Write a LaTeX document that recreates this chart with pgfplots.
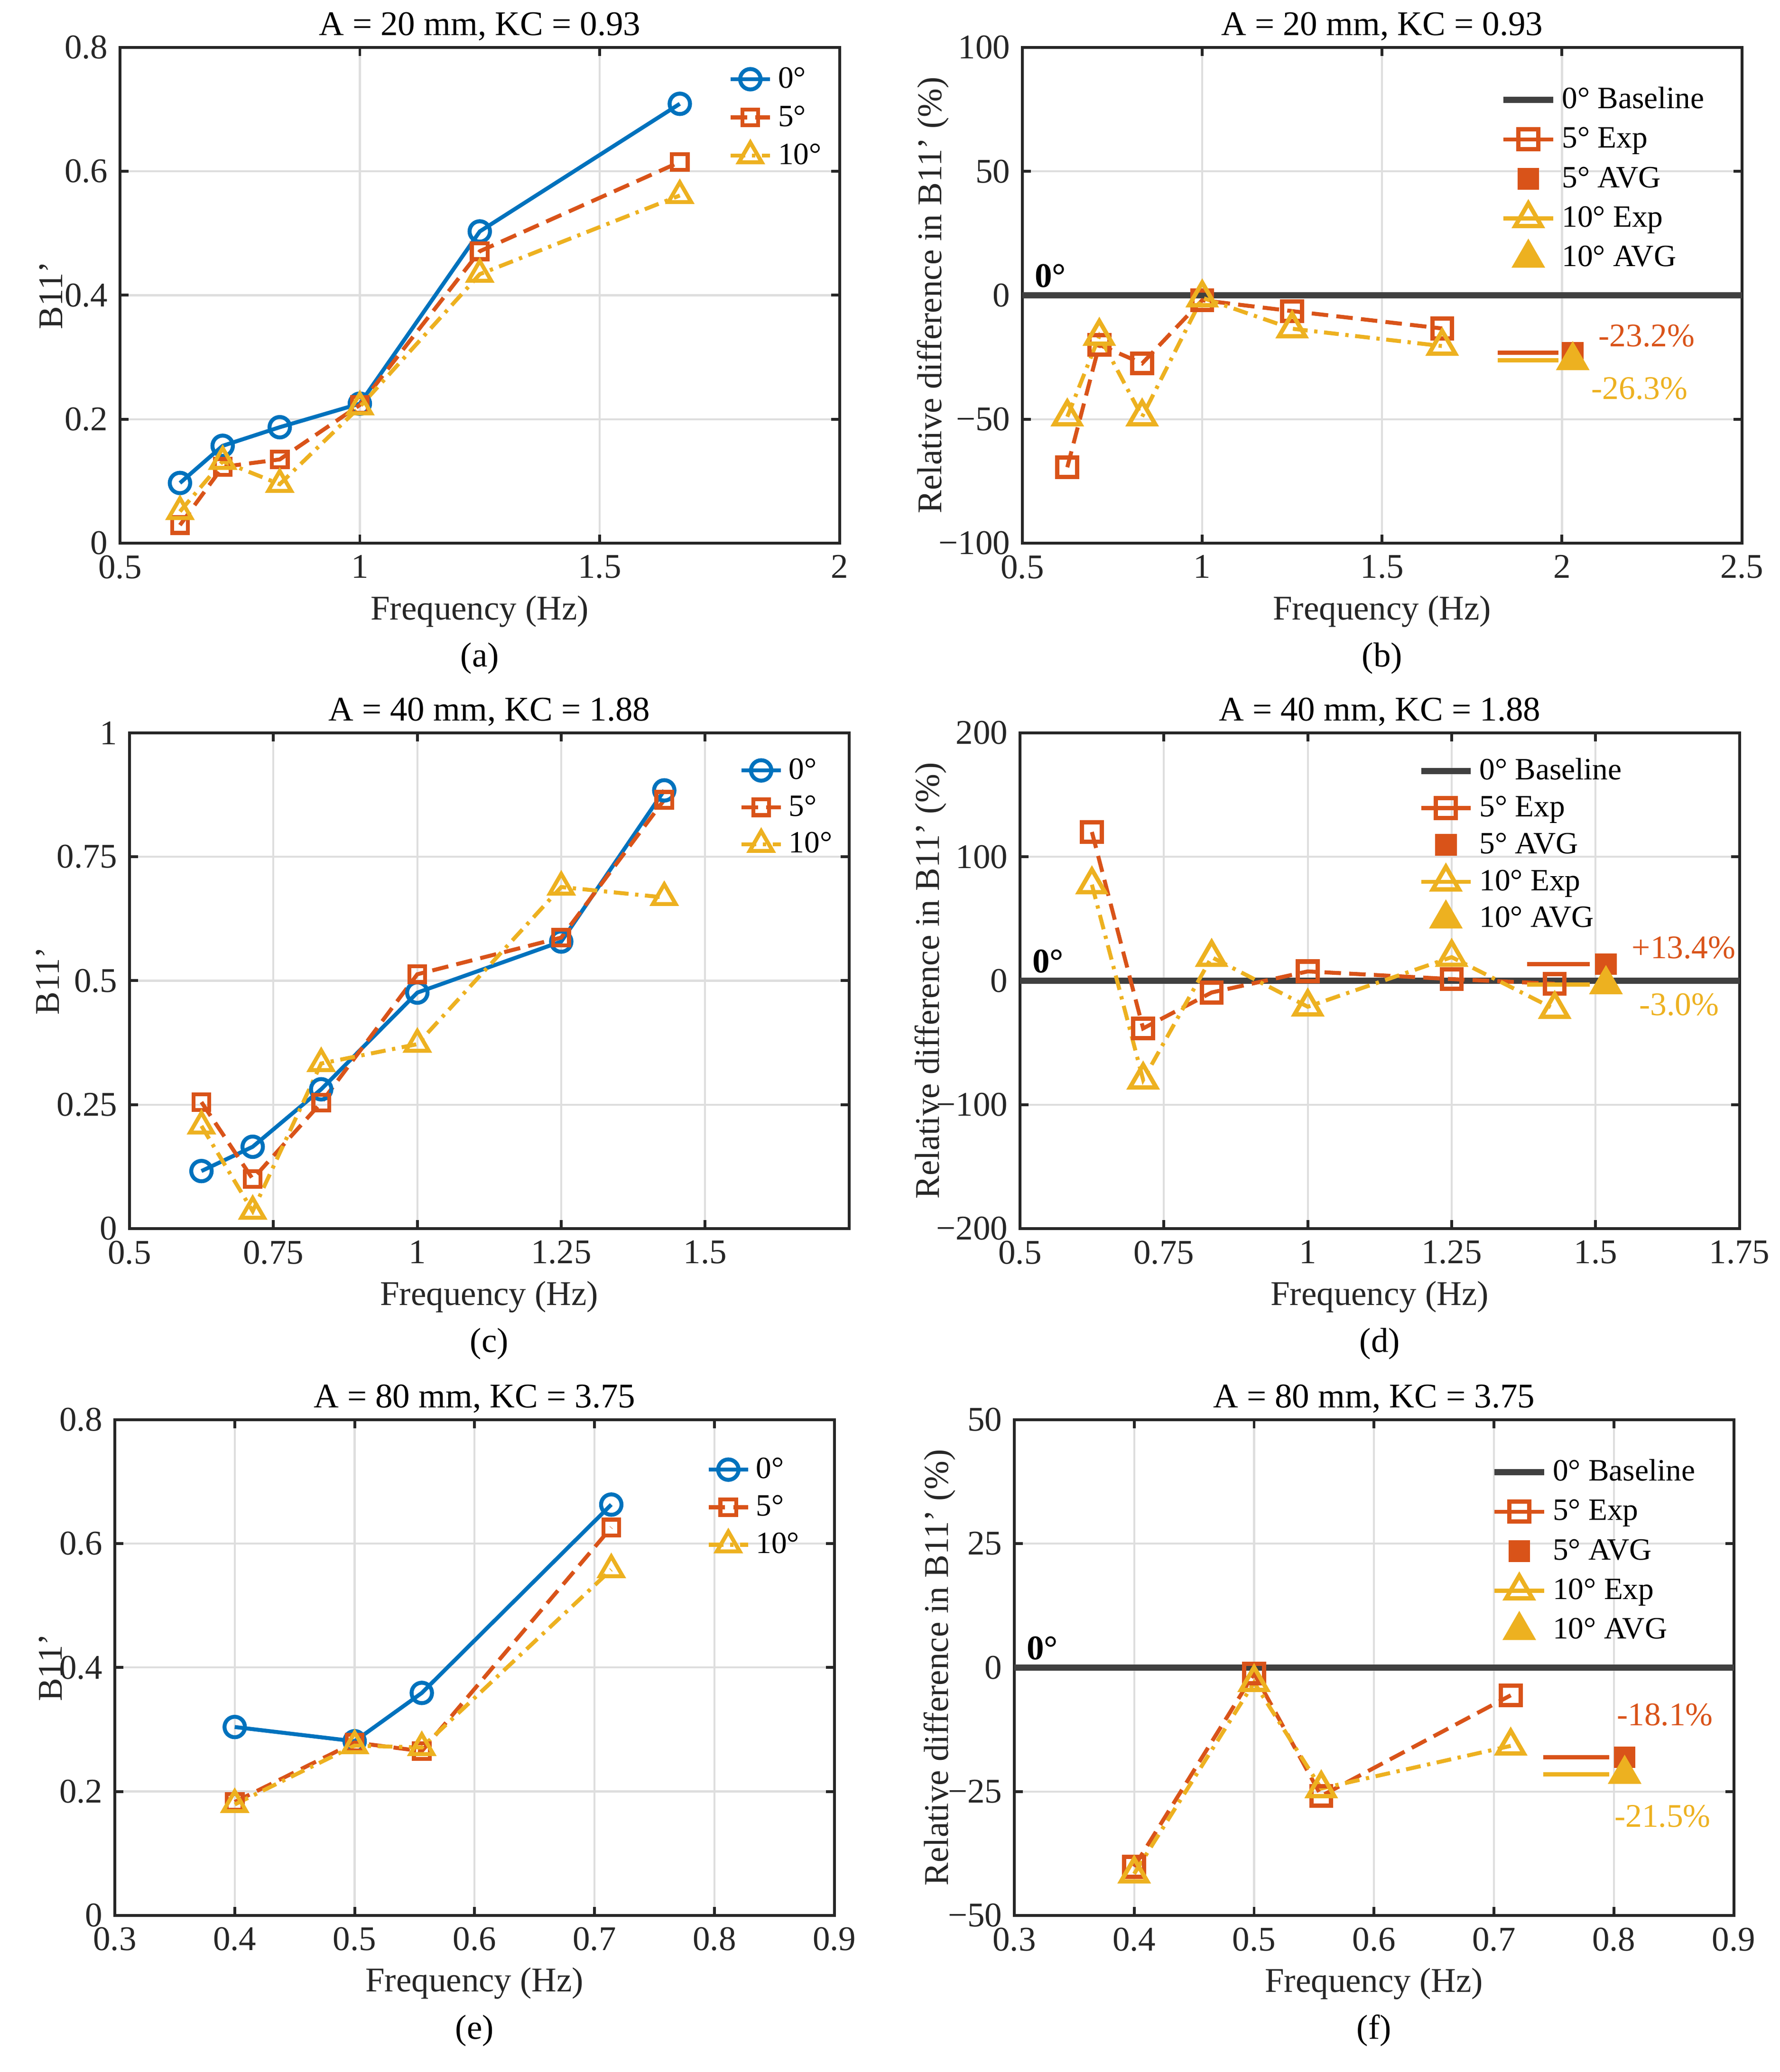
\documentclass[border=0pt]{standalone}
\usepackage{fontspec}
\setmainfont{Liberation Serif}
\usepackage{pgfplots}
\pgfplotsset{compat=1.18}
\definecolor{mblue}{HTML}{0072BD}
\definecolor{morange}{HTML}{D95319}
\definecolor{myellow}{HTML}{EDB120}
\definecolor{axcol}{HTML}{262626}
\definecolor{gridcol}{HTML}{DEDEDE}
\definecolor{basecol}{HTML}{404040}
\newcommand\myfont{\fontsize{10.5}{12.6}\selectfont}
\newcommand\legfont{\fontsize{9.4}{11}\selectfont}
\newcommand\pctfont{\fontsize{10}{12}\selectfont}
\pgfplotsset{
 base/.style={
  scale only axis, width=218.3pt, height=150.4pt, anchor=north west,
  axis line style={draw=axcol, line width=0.85pt},
  every tick/.style={draw=axcol, line width=0.85pt},
  major tick length=2.6pt, tick align=inside,
  xmajorgrids, ymajorgrids,
  grid style={draw=gridcol, line width=0.6pt},
  tick label style={font=\myfont, text=axcol},
  title style={font=\myfont, at={(axis description cs:0.5,1)}, anchor=base, yshift=-2.4pt},
  xlabel style={font=\myfont, text=axcol, at={([yshift=-23.2pt]axis description cs:0.5,0)}, anchor=base},
  clip=false,
  legend cell align=left,
  legend style={draw=none, fill=none, font=\legfont, at={(1,1)}, anchor=north east, inner sep=0pt, row sep=0pt},
 },
 legA/.style={legend image code/.code={\draw[mark repeat=2,mark phase=2,##1] plot coordinates {(0pt,0pt)(6pt,0pt)(12pt,0pt)};}},
 legB/.style={legend image code/.code={\draw[mark repeat=2,mark phase=2,##1] plot coordinates {(0pt,0pt)(7.5pt,0pt)(15pt,0pt)};}},
 yl/.style={ylabel style={font=\myfont, text=axcol, at={([xshift=#1]axis description cs:0,0.5)}, anchor=base}},
 p0/.style={color=mblue, line width=1.2pt, solid, mark=o, mark size=3.1pt, mark options={solid, line width=1.2pt}},
 p5/.style={color=morange, line width=1.2pt, dash pattern=on 5pt off 2.5pt, mark=square, mark size=2.4pt, mark options={solid, line width=1.2pt}},
 p10/.style={color=myellow, line width=1.2pt, dash pattern=on 4.5pt off 2pt on 1pt off 2pt, mark=triangle, mark size=4pt, mark options={solid, line width=1.2pt}},
 r5/.style={color=morange, line width=1.2pt, dash pattern=on 5pt off 2.5pt, mark=square, mark size=3pt, mark options={solid, line width=1.3pt}},
 r10/.style={color=myellow, line width=1.2pt, dash pattern=on 4.5pt off 2pt on 1pt off 2pt, mark=triangle, mark size=4.6pt, mark options={solid, line width=1.3pt}},
 a5/.style={color=morange, only marks, mark=square*, mark size=3.1pt, mark options={solid, fill=morange, draw=morange}},
 a10/.style={color=myellow, only marks, mark=triangle*, mark size=5.5pt, mark options={solid, fill=myellow, draw=myellow}},
 bl/.style={color=basecol, line width=1.8pt, solid, no marks},
 h5/.style={color=morange, line width=1.3pt, solid, no marks},
 h10/.style={color=myellow, line width=1.3pt, solid, no marks},
}
\begin{document}
\myfont
\begin{tikzpicture}
\useasboundingbox (0,0) rectangle (540pt,-628.7pt);
% ---------- (a)
\begin{axis}[base, legA, yl=-17.5pt, at={(36.41pt,-14.39pt)},
  xmin=0.5, xmax=2, ymin=0, ymax=0.8,
  xtick={0.5,1,1.5,2}, xticklabels={0.5,1,1.5,2},
  ytick={0,0.2,0.4,0.6,0.8}, yticklabels={0,0.2,0.4,0.6,0.8},
  title={A = 20 mm, KC = 0.93}, xlabel={Frequency (Hz)}, ylabel={B11'},
  legend style={xshift=-3.5pt, yshift=-3.65pt, nodes={inner xsep=1.8pt, inner ysep=1pt, text height=7.5pt, text depth=2.1pt}}]
\addplot[p0] coordinates {(0.625,0.097)(0.714,0.157)(0.833,0.187)(1.0,0.225)(1.25,0.503)(1.667,0.709)};
\addlegendentry{0°}
\addplot[p5] coordinates {(0.625,0.029)(0.714,0.123)(0.833,0.135)(1.0,0.223)(1.25,0.471)(1.667,0.615)};
\addlegendentry{5°}
\addplot[p10] coordinates {(0.625,0.051)(0.714,0.132)(0.833,0.095)(1.0,0.220)(1.25,0.434)(1.667,0.561)};
\addlegendentry{10°}
\node[font=\myfont] at ([yshift=-35pt]rel axis cs:0.5,0) {(a)};
\end{axis}
% ---------- (b)
\begin{axis}[base, legB, yl=-24.6pt, at={(310.16pt,-14.39pt)},
  xmin=0.5, xmax=2.5, ymin=-100, ymax=100,
  xtick={0.5,1,1.5,2,2.5}, xticklabels={0.5,1,1.5,2,2.5},
  ytick={-100,-50,0,50,100}, yticklabels={−100,−50,0,50,100},
  title={A = 20 mm, KC = 0.93}, xlabel={Frequency (Hz)}, ylabel={Relative difference in B11' (\%)},
  legend style={xshift=-9.4pt, yshift=-9.7pt, nodes={inner xsep=1.8pt, inner ysep=1pt, text height=7.6pt, text depth=2.4pt}}]
\addplot[bl, forget plot] coordinates {(0.5,0)(2.5,0)};
\addplot[r5, forget plot] coordinates {(0.625,-69.4)(0.714,-20)(0.833,-27.5)(1.0,-2)(1.25,-6.4)(1.667,-13.4)};
\addplot[h5, forget plot] coordinates {(1.822,-23.2)(1.99,-23.2)};
\addplot[a5, forget plot] coordinates {(2.03,-23.2)};
\addplot[r10, forget plot] coordinates {(0.625,-49)(0.714,-16.5)(0.833,-49)(1.0,-1)(1.25,-13.5)(1.667,-20.5)};
\addplot[h10, forget plot] coordinates {(1.822,-26.3)(1.99,-26.3)};
\addplot[a10, forget plot] coordinates {(2.03,-26.3)};
\addlegendimage{bl}\addlegendentry{0° Baseline}
\addlegendimage{r5, solid}\addlegendentry{5° Exp}
\addlegendimage{a5}\addlegendentry{5° AVG}
\addlegendimage{r10, solid}\addlegendentry{10° Exp}
\addlegendimage{a10}\addlegendentry{10° AVG}
\node[anchor=base west, font=\myfont\bfseries, inner sep=0pt] at ([xshift=3.6pt, yshift=2.5pt]axis cs:0.5,0) {0°};
\node[anchor=west, font=\pctfont, text=morange, inner sep=0pt] at (axis cs:2.10,-16.4) {-23.2\%};
\node[anchor=west, font=\pctfont, text=myellow, inner sep=0pt] at (axis cs:2.08,-37.6) {-26.3\%};
\node[font=\myfont] at ([yshift=-35pt]rel axis cs:0.5,0) {(b)};
\end{axis}
% ---------- (c)
\begin{axis}[base, legA, yl=-21.3pt, at={(39.29pt,-222.37pt)},
  xmin=0.5, xmax=1.75, ymin=0, ymax=1,
  xtick={0.5,0.75,1,1.25,1.5}, xticklabels={0.5,0.75,1,1.25,1.5},
  ytick={0,0.25,0.5,0.75,1}, yticklabels={0,0.25,0.5,0.75,1},
  title={A = 40 mm, KC = 1.88}, xlabel={Frequency (Hz)}, ylabel={B11'},
  legend style={xshift=-3.1pt, yshift=-5.6pt, nodes={inner xsep=1.8pt, inner ysep=1pt, text height=7.2pt, text depth=2pt}}]
\addplot[p0] coordinates {(0.625,0.116)(0.714,0.165)(0.833,0.281)(1.0,0.476)(1.25,0.579)(1.429,0.884)};
\addlegendentry{0°}
\addplot[p5] coordinates {(0.625,0.255)(0.714,0.100)(0.833,0.254)(1.0,0.513)(1.25,0.587)(1.429,0.865)};
\addlegendentry{5°}
\addplot[p10] coordinates {(0.625,0.207)(0.714,0.035)(0.833,0.333)(1.0,0.372)(1.25,0.689)(1.429,0.668)};
\addlegendentry{10°}
\node[font=\myfont] at ([yshift=-35pt]rel axis cs:0.5,0) {(c)};
\end{axis}
% ---------- (d)
\begin{axis}[base, legB, yl=-24.6pt, at={(309.44pt,-222.37pt)},
  xmin=0.5, xmax=1.75, ymin=-200, ymax=200,
  xtick={0.5,0.75,1,1.25,1.5,1.75}, xticklabels={0.5,0.75,1,1.25,1.5,1.75},
  ytick={-200,-100,0,100,200}, yticklabels={−200,−100,0,100,200},
  title={A = 40 mm, KC = 1.88}, xlabel={Frequency (Hz)}, ylabel={Relative difference in B11' (\%)},
  legend style={xshift=-33.7pt, yshift=-5.8pt, nodes={inner xsep=1.8pt, inner ysep=1pt, text height=7.2pt, text depth=2pt}}]
\addplot[bl, forget plot] coordinates {(0.5,0)(1.75,0)};
\addplot[r5, forget plot] coordinates {(0.625,120)(0.714,-38.5)(0.833,-9.5)(1.0,7.5)(1.25,1.3)(1.429,-2.5)};
\addplot[h5, forget plot] coordinates {(1.381,13.4)(1.490,13.4)};
\addplot[a5, forget plot] coordinates {(1.518,13.4)};
\addplot[r10, forget plot] coordinates {(0.625,77.5)(0.714,-80)(0.833,19)(1.0,-21)(1.25,19)(1.429,-23)};
\addplot[h10, forget plot] coordinates {(1.381,-3.0)(1.490,-3.0)};
\addplot[a10, forget plot] coordinates {(1.518,-3.0)};
\addlegendimage{bl}\addlegendentry{0° Baseline}
\addlegendimage{r5, solid}\addlegendentry{5° Exp}
\addlegendimage{a5}\addlegendentry{5° AVG}
\addlegendimage{r10, solid}\addlegendentry{10° Exp}
\addlegendimage{a10}\addlegendentry{10° AVG}
\node[anchor=base west, font=\myfont\bfseries, inner sep=0pt] at ([xshift=3.6pt, yshift=2.5pt]axis cs:0.5,0) {0°};
\node[anchor=west, font=\pctfont, text=morange, inner sep=0pt] at (axis cs:1.562,26.5) {+13.4\%};
\node[anchor=west, font=\pctfont, text=myellow, inner sep=0pt] at (axis cs:1.575,-19.4) {-3.0\%};
\node[font=\myfont] at ([yshift=-35pt]rel axis cs:0.5,0) {(d)};
\end{axis}
% ---------- (e)
\begin{axis}[base, legA, yl=-16pt, at={(34.83pt,-430.77pt)},
  xmin=0.3, xmax=0.9, ymin=0, ymax=0.8,
  xtick={0.3,0.4,0.5,0.6,0.7,0.8,0.9}, xticklabels={0.3,0.4,0.5,0.6,0.7,0.8,0.9},
  ytick={0,0.2,0.4,0.6,0.8}, yticklabels={0,0.2,0.4,0.6,0.8},
  title={A = 80 mm, KC = 3.75}, xlabel={Frequency (Hz)}, ylabel={B11'},
  legend style={xshift=-8.6pt, yshift=-9.25pt, nodes={inner xsep=1.8pt, inner ysep=1pt, text height=7.3pt, text depth=2.1pt}}]
\addplot[p0] coordinates {(0.4,0.304)(0.5,0.281)(0.556,0.359)(0.714,0.663)};
\addlegendentry{0°}
\addplot[p5] coordinates {(0.4,0.183)(0.5,0.279)(0.556,0.265)(0.714,0.626)};
\addlegendentry{5°}
\addplot[p10] coordinates {(0.4,0.179)(0.5,0.274)(0.556,0.271)(0.714,0.558)};
\addlegendentry{10°}
\node[font=\myfont] at ([yshift=-35pt]rel axis cs:0.5,0) {(e)};
\end{axis}
% ---------- (f)
\begin{axis}[base, legB, yl=-20.1pt, at={(307.71pt,-430.77pt)},
  xmin=0.3, xmax=0.9, ymin=-50, ymax=50,
  xtick={0.3,0.4,0.5,0.6,0.7,0.8,0.9}, xticklabels={0.3,0.4,0.5,0.6,0.7,0.8,0.9},
  ytick={-50,-25,0,25,50}, yticklabels={−50,−25,0,25,50},
  title={A = 80 mm, KC = 3.75}, xlabel={Frequency (Hz)}, ylabel={Relative difference in B11' (\%)},
  legend style={xshift=-9.7pt, yshift=-9.7pt, nodes={inner xsep=1.8pt, inner ysep=1pt, text height=7.6pt, text depth=2.4pt}}]
\addplot[bl, forget plot] coordinates {(0.3,0)(0.9,0)};
\addplot[r5, forget plot] coordinates {(0.4,-40.2)(0.5,-1.2)(0.556,-25.9)(0.714,-5.6)};
\addplot[h5, forget plot] coordinates {(0.741,-18.1)(0.796,-18.1)};
\addplot[a5, forget plot] coordinates {(0.809,-18.1)};
\addplot[r10, forget plot] coordinates {(0.4,-41.6)(0.5,-3.0)(0.556,-24.4)(0.714,-15.8)};
\addplot[h10, forget plot] coordinates {(0.741,-21.5)(0.796,-21.5)};
\addplot[a10, forget plot] coordinates {(0.809,-21.5)};
\addlegendimage{bl}\addlegendentry{0° Baseline}
\addlegendimage{r5, solid}\addlegendentry{5° Exp}
\addlegendimage{a5}\addlegendentry{5° AVG}
\addlegendimage{r10, solid}\addlegendentry{10° Exp}
\addlegendimage{a10}\addlegendentry{10° AVG}
\node[anchor=base west, font=\myfont\bfseries, inner sep=0pt] at ([xshift=3.6pt, yshift=2.5pt]axis cs:0.3,0) {0°};
\node[anchor=west, font=\pctfont, text=morange, inner sep=0pt] at (axis cs:0.802,-9.5) {-18.1\%};
\node[anchor=west, font=\pctfont, text=myellow, inner sep=0pt] at (axis cs:0.800,-30) {-21.5\%};
\node[font=\myfont] at ([yshift=-35pt]rel axis cs:0.5,0) {(f)};
\end{axis}
\end{tikzpicture}
\end{document}
